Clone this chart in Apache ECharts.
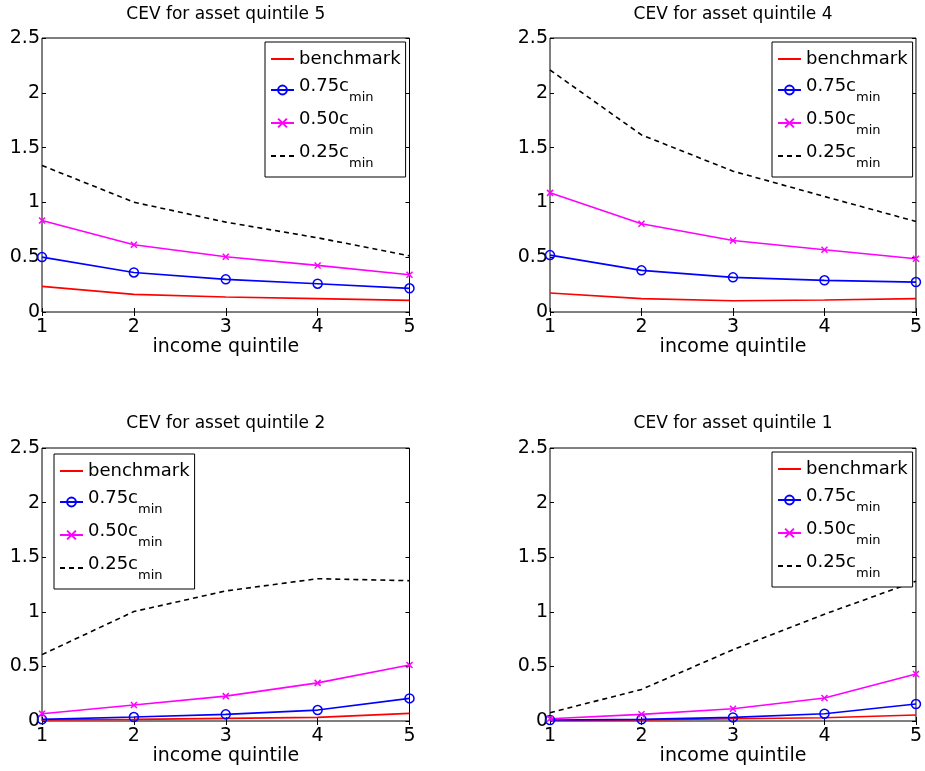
<!DOCTYPE html>
<html><head><meta charset="utf-8">
<script src="https://cdn.jsdelivr.net/npm/echarts@6/dist/echarts.min.js"></script>
<style>html,body{margin:0;padding:0;background:#fff}#c{width:925px;height:771px}</style>
</head><body><div id="c"></div>
<script>
// ---- data ----
const incomeQuintiles = [1, 2, 3, 4, 5];
const panelTitles = ['CEV for asset quintile 5', 'CEV for asset quintile 4', 'CEV for asset quintile 2', 'CEV for asset quintile 1'];
const seriesNames = ['benchmark', '0.75cmin', '0.50cmin', '0.25cmin'];
const xAxisName = 'income quintile';

const aq5_benchmark = [0.234, 0.161, 0.137, 0.122, 0.106];
const aq5_c75 = [0.501, 0.361, 0.298, 0.258, 0.216];
const aq5_c50 = [0.835, 0.614, 0.504, 0.425, 0.340];
const aq5_c25 = [1.337, 1.002, 0.820, 0.677, 0.513];

const aq4_benchmark = [0.173, 0.122, 0.103, 0.109, 0.122];
const aq4_c75 = [0.519, 0.380, 0.316, 0.289, 0.273];
const aq4_c50 = [1.087, 0.805, 0.653, 0.568, 0.486];
const aq4_c25 = [2.208, 1.616, 1.285, 1.054, 0.826];

const aq2_benchmark = [0.009, 0.015, 0.024, 0.033, 0.070];
const aq2_c75 = [0.015, 0.036, 0.061, 0.100, 0.207];
const aq2_c50 = [0.067, 0.146, 0.228, 0.349, 0.513];
const aq2_c25 = [0.608, 1.002, 1.191, 1.303, 1.285];

const aq1_benchmark = [0.006, 0.009, 0.021, 0.030, 0.055];
const aq1_c75 = [0.009, 0.015, 0.033, 0.067, 0.155];
const aq1_c50 = [0.021, 0.061, 0.112, 0.210, 0.431];
const aq1_c25 = [0.076, 0.289, 0.653, 0.978, 1.280];

const panelData = [
  [aq5_benchmark, aq5_c75, aq5_c50, aq5_c25],
  [aq4_benchmark, aq4_c75, aq4_c50, aq4_c25],
  [aq2_benchmark, aq2_c75, aq2_c50, aq2_c25],
  [aq1_benchmark, aq1_c75, aq1_c50, aq1_c25]
];

// ---- layout / style ----
const FONT = 'DejaVu Sans';
const grids = [
  {left: 42, top: 38, width: 367.5, height: 274},
  {left: 550, top: 38, width: 366, height: 274},
  {left: 42, top: 448, width: 367.5, height: 273},
  {left: 550, top: 448, width: 366, height: 273}
];
const legendPos = [
  {left: 265, top: 42},
  {left: 772, top: 42},
  {left: 54, top: 454},
  {left: 772, top: 452}
];
const titleTops = [6.5, 6.5, 415.5, 415.5];

const crossPath = 'path://M0,0L10,10M10,0L0,10';
const styles = [
  {color: '#ff0000', symbol: 'none', symbolSize: 0, type: 'solid'},
  {color: '#0000ff', symbol: 'circle', symbolSize: 9, type: 'solid', hollow: true},
  {color: '#ff00ff', symbol: crossPath, symbolSize: 6, type: 'solid', hollow: true},
  {color: '#000000', symbol: 'none', symbolSize: 0, type: [5, 4]}
];

const option = {
  backgroundColor: '#fff',
  animation: false,
  title: [], grid: [], xAxis: [], yAxis: [], legend: [], series: []
};

const tickCommon = {show: true, inside: true, length: 4, lineStyle: {color: '#000', width: 1}};

const legendData = seriesNames.map((n, i) => styles[i].symbol === 'none'
  ? {name: n, itemStyle: {color: 'rgba(0,0,0,0)', borderColor: 'rgba(0,0,0,0)', borderWidth: 0}}
  : {name: n});

grids.forEach((g, gi) => {
  option.grid.push(Object.assign({show: true, borderColor: '#000', borderWidth: 1, backgroundColor: 'transparent'}, g));
  option.title.push({
    text: panelTitles[gi], left: g.left + g.width / 2, top: titleTops[gi], textAlign: 'center', padding: 0,
    textStyle: {fontFamily: FONT, fontSize: 17, fontWeight: 'normal', color: '#000'}
  });
  const xBase = {type: 'value', gridIndex: gi, min: 1, max: 5, interval: 1,
    axisLine: {show: false}, splitLine: {show: false}, axisTick: tickCommon};
  option.xAxis.push(Object.assign({}, xBase, {
    position: 'bottom',
    axisLabel: {color: '#000', fontFamily: FONT, fontSize: 19, margin: 6},
    name: xAxisName, nameLocation: 'middle', nameGap: 26,
    nameTextStyle: {color: '#000', fontFamily: FONT, fontSize: 19}
  }));
  option.xAxis.push(Object.assign({}, xBase, {position: 'top', axisLabel: {show: false}}));
  const yBase = {type: 'value', gridIndex: gi, min: 0, max: 2.5, interval: 0.5,
    axisLine: {show: false}, splitLine: {show: false}, axisTick: tickCommon};
  option.yAxis.push(Object.assign({}, yBase, {
    position: 'left',
    axisLabel: {color: '#000', fontFamily: FONT, fontSize: 19, margin: 2}
  }));
  option.yAxis.push(Object.assign({}, yBase, {position: 'right', axisLabel: {show: false}}));

  option.legend.push(Object.assign({
    orient: 'vertical', itemWidth: 23, itemHeight: 11, itemGap: 3,
    padding: [2, 5, 4, 5], borderColor: '#000', borderWidth: 1, borderRadius: 0,
    backgroundColor: '#fff', selectedMode: false, data: legendData,
    formatter: function (name) {
      if (name === 'benchmark') return '{e| }\n{b|benchmark}\n{e| }';
      const main = name.slice(0, 5);
      return '{m|' + main + '}\n{sp|' + main + '}{s|min}';
    },
    textStyle: {
      fontFamily: FONT, fontSize: 18, color: '#000',
      rich: {
        e: {fontFamily: FONT, fontSize: 5, color: 'rgba(0,0,0,0)', lineHeight: 5},
        b: {fontFamily: FONT, fontSize: 18, color: '#000', lineHeight: 20},
        m: {fontFamily: FONT, fontSize: 18, color: '#000', lineHeight: 16},
        sp: {fontFamily: FONT, fontSize: 18, color: 'rgba(0,0,0,0)', lineHeight: 8},
        s: {fontFamily: FONT, fontSize: 13, color: '#000', lineHeight: 8}
      }
    }
  }, legendPos[gi]));

  panelData[gi].forEach((vals, si) => {
    const st = styles[si];
    option.series.push({
      type: 'line', name: seriesNames[si], xAxisIndex: gi * 2, yAxisIndex: gi * 2,
      data: incomeQuintiles.map((x, i) => [x, vals[i]]),
      symbol: st.symbol, symbolSize: st.symbolSize, showSymbol: st.symbol !== 'none',
      clip: false, silent: true,
      lineStyle: {color: st.color, width: 1.6, type: st.type},
      itemStyle: st.hollow ? {color: 'rgba(255,255,255,0)', borderColor: st.color, borderWidth: 1.5} : {color: st.color}
    });
  });
});

const chart = echarts.init(document.getElementById('c'), null, {renderer: 'canvas'});
chart.setOption(option);
</script>
</body></html>
